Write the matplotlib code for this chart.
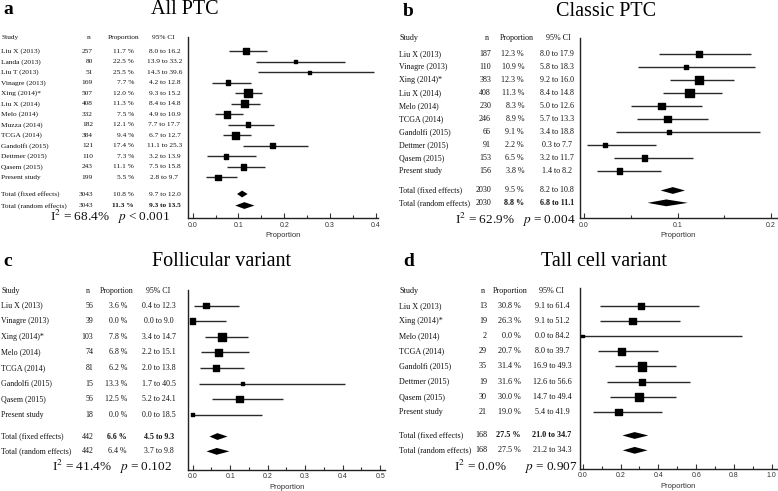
import matplotlib
matplotlib.use("Agg")
import matplotlib.pyplot as plt
import matplotlib.transforms as mtransforms
import numpy as np
from matplotlib.ticker import MultipleLocator, FormatStrFormatter

W, H = 778, 491
plt.rcParams["mathtext.fontset"] = "stix"
SERIF = "Liberation Serif"
SANS = "Liberation Sans"

# ── Data ──
# a: All PTC
studies_a = ["Liu X (2013)", "Landa (2013)", "Liu T (2013)", "Vinagre (2013)", "Xing (2014)*",
             "Liu X (2014)", "Melo (2014)", "Muzza (2014)", "TCGA (2014)", "Gandolfi (2015)",
             "Dettmer (2015)", "Qasem (2015)", "Present study"]
n_a = [257, 80, 51, 169, 507, 408, 332, 182, 384, 121, 110, 243, 199]
p_a = [11.7, 22.5, 25.5, 7.7, 12.0, 11.3, 7.5, 12.1, 9.4, 17.4, 7.3, 11.1, 5.5]
lo_a = [8.0, 13.9, 14.3, 4.2, 9.3, 8.4, 4.9, 7.7, 6.7, 11.1, 3.2, 7.5, 2.8]
hi_a = [16.2, 33.2, 39.6, 12.8, 15.2, 14.8, 10.9, 17.7, 12.7, 25.3, 13.9, 15.8, 9.7]
w_a = [9.0, 2.7, 1.8, 5.5, 15.9, 11.2, 11.2, 5.5, 11.2, 5.5, 5.5, 8.1, 7.0]
fixed_a = (3043, 10.8, 9.7, 12.0)
random_a = (3043, 11.3, 9.3, 13.5)

# b: Classic PTC
studies_b = ["Liu X (2013)", "Vinagre (2013)", "Xing (2014)*", "Liu X (2014)", "Melo (2014)",
             "TCGA (2014)", "Gandolfi (2015)", "Dettmer (2015)", "Qasem (2015)", "Present study"]
n_b = [187, 110, 383, 408, 230, 246, 66, 91, 153, 156]
p_b = [12.3, 10.9, 12.3, 11.3, 8.3, 8.9, 9.1, 2.2, 6.5, 3.8]
lo_b = [8.0, 5.8, 9.2, 8.4, 5.0, 5.7, 3.4, 0.3, 3.2, 1.4]
hi_b = [17.9, 18.3, 16.0, 14.8, 12.6, 13.3, 18.8, 7.7, 11.7, 8.2]
w_b = [9.3, 4.1, 19.6, 19.6, 11.6, 11.6, 4.1, 4.1, 7.3, 8.4]
fixed_b = (2030, 9.5, 8.2, 10.8)
random_b = (2030, 8.8, 6.8, 11.1)

# c: Follicular variant
studies_c = ["Liu X (2013)", "Vinagre (2013)", "Xing (2014)*", "Melo (2014)", "TCGA (2014)",
             "Gandolfi (2015)", "Qasem (2015)", "Present study"]
n_c = [56, 39, 103, 74, 81, 15, 56, 18]
p_c = [3.6, 0.0, 7.8, 6.8, 6.2, 13.3, 12.5, 0.0]
lo_c = [0.4, 0.0, 3.4, 2.2, 2.0, 1.7, 5.2, 0.0]
hi_c = [12.3, 9.0, 14.7, 15.1, 13.8, 40.5, 24.1, 18.5]
w_c = [12.6, 9.9, 22.5, 15.8, 15.8, 3.8, 15.8, 3.8]
fixed_c = (442, 6.6, 4.5, 9.3)
random_c = (442, 6.4, 3.7, 9.8)

# d: Tall cell variant
studies_d = ["Liu X (2013)", "Xing (2014)*", "Melo (2014)", "TCGA (2014)", "Gandolfi (2015)",
             "Dettmer (2015)", "Qasem (2015)", "Present study"]
n_d = [13, 19, 2, 29, 35, 19, 30, 21]
p_d = [30.8, 26.3, 0.0, 20.7, 31.4, 31.6, 30.0, 19.0]
lo_d = [9.1, 9.1, 0.0, 8.0, 16.9, 12.6, 14.7, 5.4]
hi_d = [61.4, 51.2, 84.2, 39.7, 49.3, 56.6, 49.4, 41.9]
w_d = [9.9, 12.4, 2.0, 14.7, 20.9, 9.9, 17.7, 12.4]
fixed_d = (168, 27.5, 21.0, 34.7)
random_d = (168, 27.5, 21.2, 34.3)

fig = plt.figure(figsize=(W / 100, H / 100), dpi=100)
fig.patch.set_facecolor("white")


def fx(x):
    return x / W


def fy(y):
    return 1 - y / H


def panel(letter, title, title_x, top_y, rect, xlim, major, minor,
          studies, n, p, lo, hi, w, fixed, rand, bold_row, het,
          row0, step, t_rows, cols, fs, box_k, het_x, het_y, het_gap="   "):
    x0, x1, y0, y1 = rect
    ax = fig.add_axes([fx(x0), fy(y1), fx(x1) - fx(x0), fy(y0) - fy(y1)])
    k = len(studies)
    rows = np.arange(k)
    ax.set_ylim((y1 - row0) / step, -(row0 - y0) / step)
    ax.set_xlim(*xlim)

    # study CIs and boxes
    prop = np.array(p) / 100
    ax.hlines(rows, np.array(lo) / 100, np.array(hi) / 100, color="#2a2a2a", lw=1.0, zorder=2)
    sides = box_k * np.sqrt(w) * 0.72
    ax.scatter(prop, rows, s=sides ** 2, marker="s", color="black", zorder=3, clip_on=False)

    # pooled diamonds
    hh = 3.4 / step
    for r, (_, est, l, h) in zip(t_rows, (fixed, rand)):
        ax.fill([l / 100, est / 100, h / 100, est / 100], [r, r - hh, r, r + hh],
                color="black", lw=0, zorder=3)

    for s in ("top", "right"):
        ax.spines[s].set_visible(False)
    for s in ("left", "bottom"):
        ax.spines[s].set_linewidth(1.0)
        ax.spines[s].set_color("#222222")
    ax.set_yticks([])
    ax.xaxis.set_major_locator(MultipleLocator(major))
    ax.xaxis.set_minor_locator(MultipleLocator(minor))
    ax.xaxis.set_major_formatter(FormatStrFormatter("%.1f"))
    ax.tick_params(axis="x", which="major", direction="in", length=3.5, width=0.8,
                   labelsize=5, pad=2.5, colors="#333333")
    ax.tick_params(axis="x", which="minor", direction="in", length=2.5, width=0.8,
                   colors="#333333")
    for lab in ax.get_xticklabels():
        lab.set_family(SANS)
    ax.set_xlabel("Proportion", fontsize=5.5, family=SANS, labelpad=2.5, color="#333333")

    # table
    tr = mtransforms.blended_transform_factory(fig.transFigure, ax.transData)
    sx, nx, px_, cx, hn, hp, hc = cols
    hrow = (top_y - row0) / step
    kw = dict(transform=tr, va="center", fontsize=fs, family=SERIF, color="#111111")
    ax.text(fx(sx), hrow, "Study", ha="left", **kw)
    ax.text(fx(hn), hrow, "n", ha="center", **kw)
    ax.text(fx(hp), hrow, "Proportion", ha="center", **kw)
    ax.text(fx(hc), hrow, "95% CI", ha="center", **kw)
    for i in range(k):
        ax.text(fx(sx), i, studies[i], ha="left", **kw)
        ax.text(fx(nx), i, str(n[i]), ha="right", **kw)
        ax.text(fx(px_), i, f"{p[i]:.1f} %", ha="right", **kw)
        ax.text(fx(cx), i, f"{lo[i]:.1f} to {hi[i]:.1f}", ha="center", **kw)
    for j, (lab, tot, r) in enumerate(zip(("Total (fixed effects)", "Total (random effects)"),
                                          (fixed, rand), t_rows)):
        nn, est, l, h = tot
        wt = "bold" if j == bold_row else "normal"
        ax.text(fx(sx), r, lab, ha="left", **kw)
        ax.text(fx(nx), r, str(nn), ha="right", **kw)
        ax.text(fx(px_), r, f"{est:.1f} %", ha="right", fontweight=wt, **kw)
        ax.text(fx(cx), r, f"{l:.1f} to {h:.1f}", ha="center", fontweight=wt, **kw)

    i2, pv = het
    fig.text(fx(het_x), fy(het_y), "I$^2$ = " + i2 + het_gap + "$p$ " + pv, ha="center",
             va="center", fontsize=9.5, family=SERIF, color="#111111")

    lx = 3 if letter in "ac" else 403
    fig.text(fx(lx), fy(top_y - 27 if letter in "ab" else top_y - 29), letter,
             fontsize=14, fontweight="bold", family=SERIF, ha="left", va="center")
    fig.text(fx(title_x), fy(top_y - 27 if letter in "ab" else top_y - 29), title,
             fontsize=14.5, family=SERIF, ha="center", va="center")
    return ax


panel("a", "All PTC", 185, 37, (188.3, 378, 37, 218.3), (-0.0096, 0.405), 0.1, 0.05,
      studies_a, n_a, p_a, lo_a, hi_a, w_a, fixed_a, random_a, 1, ("68.4%", "< 0.001"),
      51.2, 10.5, (13.6, 14.7), (1, 93, 134, 164.5, 88.5, 123.5, 163.5), 5.3, 2.0, 110, 217)

panel("b", "Classic PTC", 606, 38, (580, 776.7, 38, 218.3), (-0.0043, 0.2061), 0.1, 0.05,
      studies_b, n_b, p_b, lo_b, hi_b, w_b, fixed_b, random_b, 1, ("62.9%", "= 0.004"),
      54.0, 13.0, (10.5, 11.45), (399.3, 491, 524, 557, 487, 516.5, 558.5), 5.8, 1.96, 515, 220)

panel("c", "Follicular variant", 222, 291, (188.3, 385, 290, 470), (-0.0117, 0.513), 0.1, 0.05,
      studies_c, n_c, p_c, lo_c, hi_c, w_c, fixed_c, random_c, 0, ("41.4%", "= 0.102"),
      305.5, 15.6, (8.4, 9.35), (1, 93.5, 127, 159, 88, 117, 158.5), 5.7, 1.69, 112, 466.5)

panel("d", "Tall cell variant", 604, 291, (580, 776.7, 288.3, 469), (-0.0143, 1.026), 0.2, 0.1,
      studies_d, n_d, p_d, lo_d, hi_d, w_d, fixed_d, random_d, 0, ("0.0%", "= 0.907"),
      305.8, 15.15, (8.56, 9.54), (399.3, 487, 521, 552, 482.5, 510, 551.5), 5.9, 1.90, 516, 466.5,
      het_gap="      ")

fig.savefig("out.png", dpi=100, facecolor="white")
